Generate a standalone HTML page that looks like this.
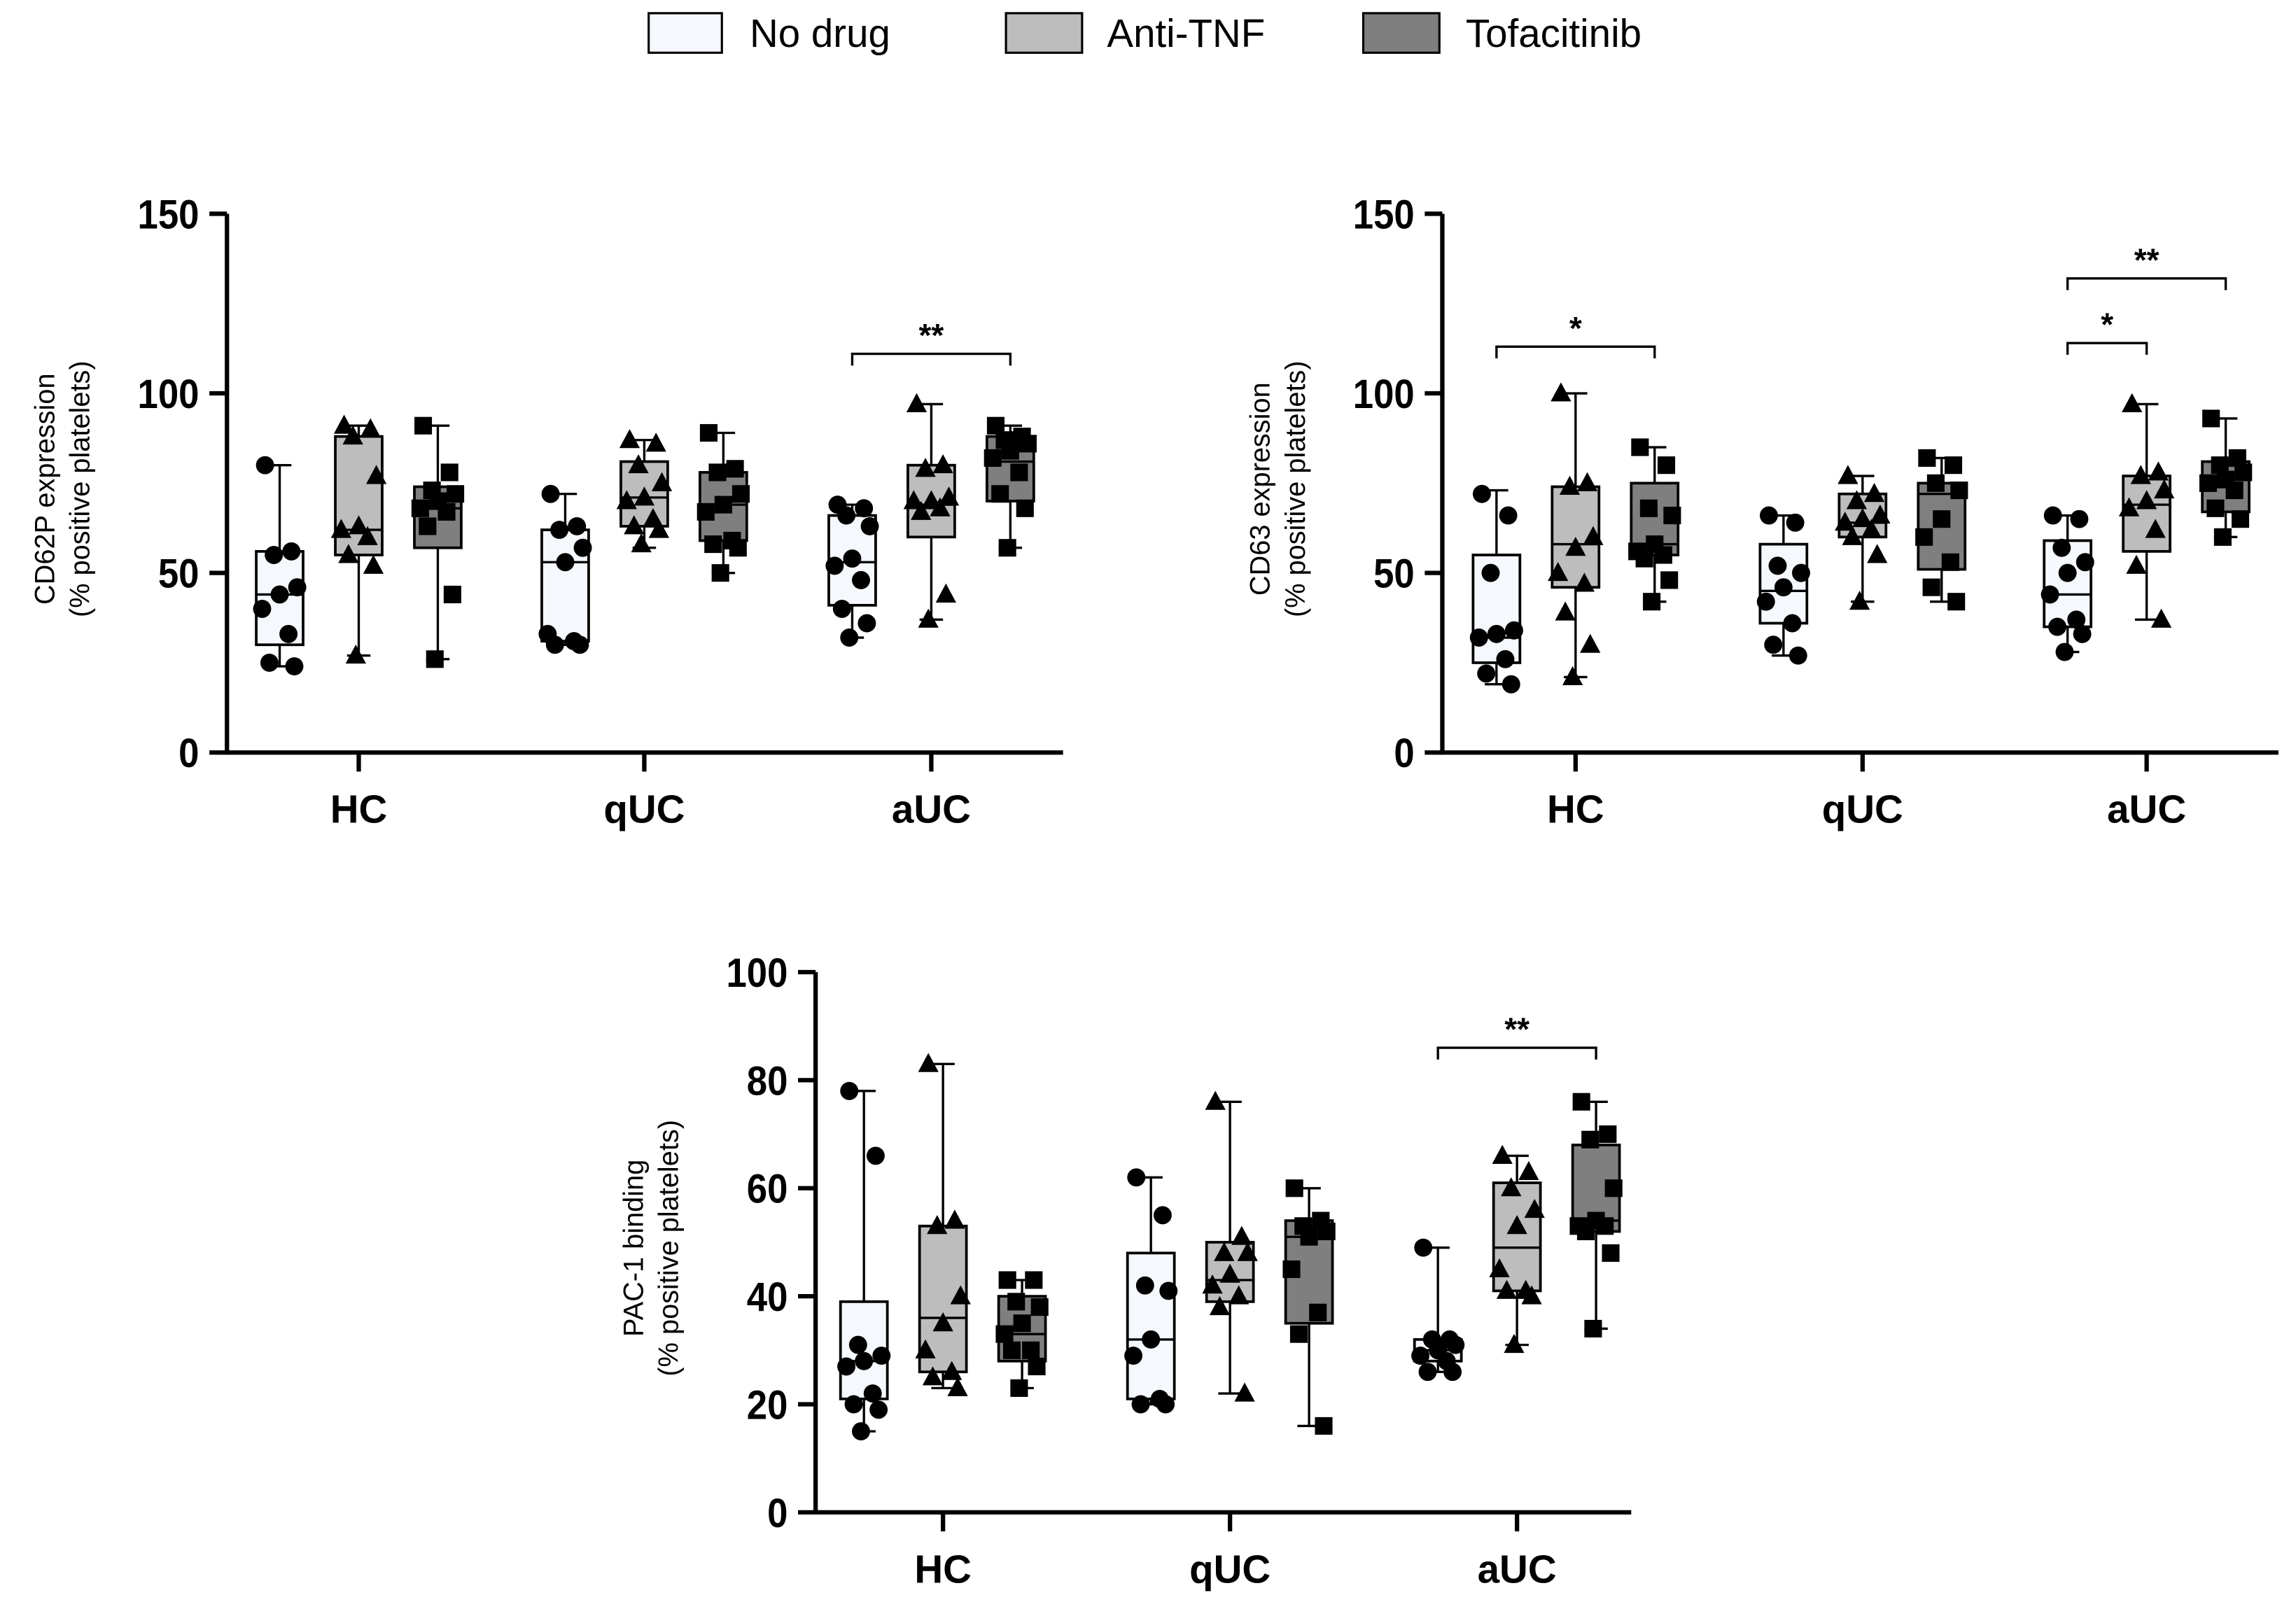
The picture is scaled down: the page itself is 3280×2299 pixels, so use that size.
<!DOCTYPE html>
<html><head><meta charset="utf-8"><style>
html,body{margin:0;padding:0;background:#fff}
svg{display:block}
text{font-family:"Liberation Sans",Arial,sans-serif}
</style></head><body>
<svg id="fig" xmlns="http://www.w3.org/2000/svg" width="3280" height="2299" viewBox="0 0 1568 1099">
<g>
<g><rect x="443" y="9" width="50" height="27" fill="#f5f8fc" stroke="#000" stroke-width="1.5"/><text x="512" y="32" font-size="27">No drug</text></g>
<g><rect x="687" y="9" width="52" height="27" fill="#bdbdbd" stroke="#000" stroke-width="1.5"/><text x="756" y="32" font-size="27">Anti-TNF</text></g>
<g><rect x="931" y="9" width="52" height="27" fill="#7f7f7f" stroke="#000" stroke-width="1.5"/><text x="1001" y="32" font-size="27">Tofacitinib</text></g>
</g>
</svg>
<script>
// ---- data ----
const categories = ["HC","qUC","aUC"];
const seriesNames = ["No drug","Anti-TNF","Tofacitinib"];
// CD62P: [min,q1,median,q3,max] per category per series
const cd62pStats = [
 [[24,30,44,56,80],[27,55,62,88,91],[26,57,68,74,91]],
 [[30,31,53,62,72],[57,63,71,81,87],[50,59,69,78,89]],
 [[32,41,53,66,69],[37,60,69,80,97],[57,70,81,88,91]]];
const cd62pPoints = [
 [[80,56,55,46,44,40,33,25,24],[91,90,88,77,63,62,60,55,52,27],[91,78,73,72,70,68,67,63,44,26]],
 [[72,63,62,57,53,33,31,30,30],[87,86,80,75,71,70,65,63,62,58],[89,79,78,72,69,67,59,58,57,50]],
 [[69,68,66,63,54,52,48,40,36,32],[97,80,79,71,70,70,68,67,44,37],[91,88,87,86,84,82,78,72,68,57]]];
const cd63Stats = [
 [[19,25,32,55,73],[21,46,58,74,100],[42,55,58,75,85]],
 [[27,36,45,58,66],[42,60,64,72,77],[42,51,72,75,82]],
 [[28,35,44,59,66],[37,56,69,77,97],[60,67,76,81,93]]];
const cd63Points = [
 [[72,66,50,34,33,32,26,22,19],[100,75,74,60,57,50,47,39,30,21],[85,80,68,66,58,56,55,54,48,42]],
 [[66,64,52,50,46,42,36,30,27],[77,72,70,66,65,64,62,60,55,42],[82,80,75,73,65,60,53,46,42]],
 [[66,65,57,53,50,44,37,35,33,28],[97,78,77,73,70,68,62,52,37],[93,82,80,78,76,75,73,68,65,60]]];
const pacStats = [
 [[15,21,28,39,78],[23,26,36,53,83],[23,28,33,40,43]],
 [[20,21,32,48,62],[22,39,43,50,76],[16,35,51,54,60]],
 [[26,28,30,32,49],[31,41,49,61,66],[34,52,54,68,76]]];
const pacPoints = [
 [[78,66,31,29,28,27,22,20,19,15],[83,54,53,40,35,30,26,25,23],[43,43,39,38,35,33,30,30,27,23]],
 [[62,55,42,41,32,29,21,20,20],[76,51,48,48,44,42,40,38,22],[60,54,53,52,51,45,37,33,16]],
 [[49,32,32,31,30,29,28,26,26],[66,63,60,56,53,45,41,41,40,31],[76,70,69,60,54,53,53,52,48,34]]];
const cd62pTicks = [0,50,100,150];
const cd63Ticks = [0,50,100,150];
const pacTicks = [0,20,40,60,80,100];
// brackets: [catIndex, seriesFrom, seriesTo, value, label]
const cd62pBrackets = [[2,0,2,111,"**"]];
const cd63Brackets = [[0,0,2,113,"*"],[2,0,1,114,"*"],[2,0,2,132,"**"]];
const pacBrackets = [[2,0,2,86,"**"]];

const NS="http://www.w3.org/2000/svg";
const svg=document.getElementById('fig');
function el(tag,attrs,parent){const e=document.createElementNS(NS,tag);for(const k in attrs)e.setAttribute(k,attrs[k]);(parent||svg).appendChild(e);return e;}
const fills=["#f5f8fc","#bdbdbd","#7f7f7f"];
const jitter=[-10,8,-4,12,0,-12,6,-7,10,-2];

function panel(cfg){
 const g=el('g',{});
 
 
 const ymax=cfg.ticks[cfg.ticks.length-1];
 const y=v=>cfg.y0-(v/ymax)*(cfg.y0-cfg.yTop);
 const cx=(ci,si)=>cfg.cats[ci]+(si-1)*54;
 const t=el('text',{transform:`translate(${cfg.ax-118},${(cfg.y0+cfg.yTop)/2+4}) rotate(-90)`,'font-size':19,'text-anchor':'middle'},g);
 
 
 const t1=el('tspan',{x:0,dy:0},t);t1.textContent=cfg.title1;
 const t2=el('tspan',{x:0,dy:24},t);t2.textContent="(% positive platelets)";
 const ya=el('line',{x1:cfg.ax,y1:cfg.yTop,x2:cfg.ax,y2:cfg.y0+1.5,stroke:'#000','stroke-width':3},g);
 
 
 const xa=el('line',{x1:cfg.ax,y1:cfg.y0,x2:cfg.xEnd,y2:cfg.y0,stroke:'#000','stroke-width':3},g);
 
 
 cfg.ticks.forEach(v=>{
  el('line',{x1:cfg.ax-12,y1:y(v),x2:cfg.ax,y2:y(v),stroke:'#000','stroke-width':3},g);
  const tl=el('text',{x:cfg.ax-19,y:y(v)+10,'font-size':28,'font-weight':'bold','text-anchor':'end',transform:`translate(${cfg.ax-19},0) scale(0.9,1) translate(${-(cfg.ax-19)},0)`},g);
  
  
  tl.textContent=v;
 });
 categories.forEach((c,ci)=>{
  el('line',{x1:cfg.cats[ci],y1:cfg.y0,x2:cfg.cats[ci],y2:cfg.y0+13,stroke:'#000','stroke-width':3},g);
  const cl=el('text',{x:cfg.cats[ci],y:cfg.y0+48,'font-size':27,'font-weight':'bold','text-anchor':'middle'},g);
  
  
  cl.textContent=c;
 });
 categories.forEach((c,ci)=>{
  for(let si=0;si<3;si++){
   const s=cfg.stats[ci][si];const x=cx(ci,si);
   const bg=el('g',{},g);
   
   
   el('line',{x1:x,y1:y(s[0]),x2:x,y2:y(s[4]),stroke:'#000','stroke-width':1.6},bg);
   el('line',{x1:x-8,y1:y(s[0]),x2:x+8,y2:y(s[0]),stroke:'#000','stroke-width':1.6},bg);
   el('line',{x1:x-8,y1:y(s[4]),x2:x+8,y2:y(s[4]),stroke:'#000','stroke-width':1.6},bg);
   el('rect',{x:x-16,y:y(s[3]),width:32,height:y(s[1])-y(s[3]),fill:fills[si],stroke:'#000','stroke-width':1.8},bg);
   el('line',{x1:x-16,y1:y(s[2]),x2:x+16,y2:y(s[2]),stroke:'#000','stroke-width':1.6},bg);
   cfg.points[ci][si].forEach((v,pi)=>{
    const px=x+jitter[pi%jitter.length];const py=y(v);let m;
    if(si===0)m=el('circle',{cx:px,cy:py,r:6.2,fill:'#000'},bg);
    else if(si===1)m=el('polygon',{points:`${px},${py-7.5} ${px-7},${py+5.5} ${px+7},${py+5.5}`,fill:'#000'},bg);
    else m=el('rect',{x:px-6,y:py-6,width:12,height:12,fill:'#000'},bg);
    
    
   });
  }
 });
 cfg.brackets.forEach(b=>{
  const x1=cx(b[0],b[1]),x2=cx(b[0],b[2]),yy=y(b[3]);
  const bk=el('path',{d:`M${x1},${yy+8}V${yy}H${x2}V${yy+8}`,fill:'none',stroke:'#000','stroke-width':1.6},g);
  
  
  const st=el('text',{x:(x1+x2)/2,y:yy-5,'font-size':22,'font-weight':'bold','text-anchor':'middle'},g);
  
  
  st.textContent=b[4];
 });
}
panel({name:'cd62p-chart',title1:'CD62P expression',ax:155,xEnd:726,yTop:146,y0:514,cats:[245,440,636],ticks:cd62pTicks,stats:cd62pStats,points:cd62pPoints,brackets:cd62pBrackets});
panel({name:'cd63-chart',title1:'CD63 expression',ax:985,xEnd:1556,yTop:146,y0:514,cats:[1076,1272,1466],ticks:cd63Ticks,stats:cd63Stats,points:cd63Points,brackets:cd63Brackets});
panel({name:'pac1-chart',title1:'PAC-1 binding',ax:557,xEnd:1114,yTop:664,y0:1033,cats:[644,840,1036],ticks:pacTicks,stats:pacStats,points:pacPoints,brackets:pacBrackets});
</script>
</body></html>
